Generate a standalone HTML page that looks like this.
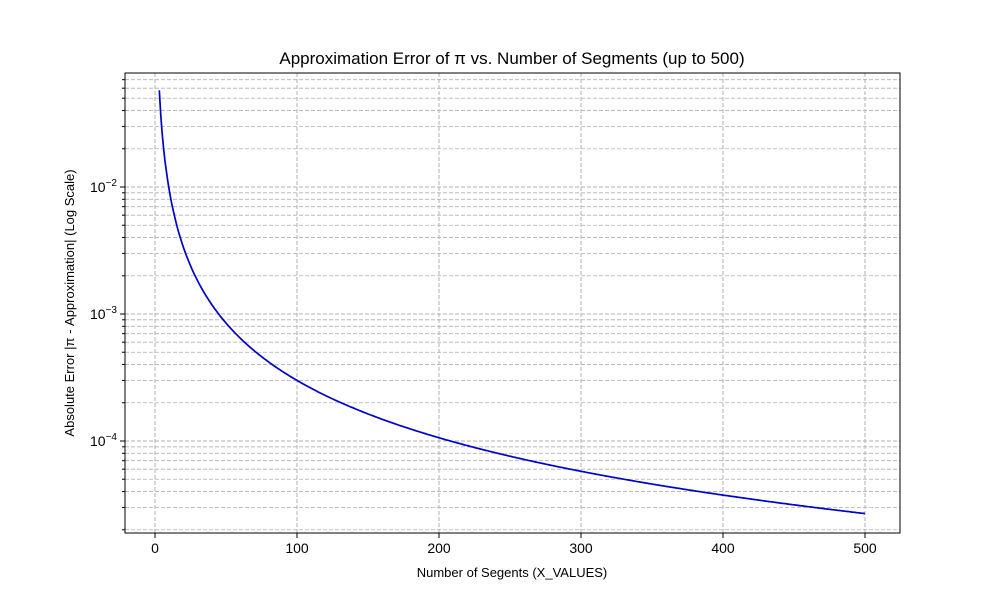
<!DOCTYPE html>
<html><head><meta charset="utf-8"><style>
html,body{margin:0;padding:0;background:#fff;}
svg{display:block;font-family:"Liberation Sans",sans-serif;}
</style></head><body>
<svg id="s" width="1000" height="600" viewBox="0 0 1000 600" xmlns="http://www.w3.org/2000/svg">
<rect width="1000" height="600" fill="#fff"/>
<g id="grid"></g>
<polyline id="curve" fill="none" stroke="#0000cc" stroke-width="1.7"/>
<rect x="125" y="73" width="775" height="460" fill="none" stroke="#000" stroke-width="1"/>
<g id="ticks"></g>
<text x="512" y="64" font-size="17" text-anchor="middle">Approximation Error of π vs. Number of Segments (up to 500)</text>
<text x="512" y="577" font-size="13" text-anchor="middle">Number of Segents (X_VALUES)</text>
<text transform="translate(74,303) rotate(-90)" font-size="13" text-anchor="middle">Absolute Error |π - Approximation| (Log Scale)</text>
</svg>
<script>
var L=125,R=900,T=73,B=533;
function X(v){return 155+v*1.42;}
function Y(v){return 187-(Math.log10(v)+2)*127;}
var g='',t='';
for(var e=-5;e<=-1;e++){for(var m=1;m<10;m++){var v=m*Math.pow(10,e);var y=Y(v);if(y<T||y>B)continue;
g+='<line x1="'+L+'" x2="'+R+'" y1="'+y+'" y2="'+y+'" stroke="#b0b0b0" stroke-dasharray="4,2" stroke-width="'+(m==1?1:0.8)+'"/>';
t+='<line x1="'+(L-(m==1?5:3))+'" x2="'+L+'" y1="'+y+'" y2="'+y+'" stroke="#000"/>';
if(m==1)t+='<text x="'+(L-8)+'" y="'+(y+5)+'" font-size="14" text-anchor="end">10<tspan dy="-6" font-size="10">'+'\u2212'+(-e)+'</tspan></text>';}}
for(var k=0;k<=500;k+=100){var x=X(k);
g+='<line x1="'+x+'" x2="'+x+'" y1="'+T+'" y2="'+B+'" stroke="#b0b0b0" stroke-dasharray="4,2" stroke-width="1"/>';
t+='<line x1="'+x+'" x2="'+x+'" y1="'+B+'" y2="'+(B+5)+'" stroke="#000"/>';
t+='<text x="'+x+'" y="'+(B+20)+'" font-size="14" text-anchor="middle">'+k+'</text>';}
document.getElementById('grid').innerHTML=g;document.getElementById('ticks').innerHTML=t;
var p=[];for(var n=3;n<=500;n++){p.push(X(n).toFixed(1)+','+Y(0.3/Math.pow(n,1.5)).toFixed(1));}
document.getElementById('curve').setAttribute('points',p.join(' '));
</script>
</body></html>
